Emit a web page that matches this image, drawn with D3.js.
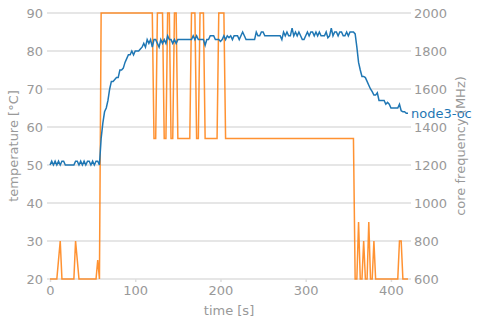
<!DOCTYPE html>
<html>
<head>
<meta charset="utf-8">
<script src="https://cdn.jsdelivr.net/npm/d3@7"></script>
<style>
  body { margin: 0; background: #fff; }
  text { font-family: 'DejaVu Sans', sans-serif; }
</style>
</head>
<body>
<svg id="chart_svg" width="482" height="325"></svg>
<script>
// sampling step of the log (seconds)
const sample_step = 2;

// node3-oc temperature [°C], one value every 2 s from t = 0
const temperature = [
  50, 51, 50, 51, 50, 51, 50, 51, 51, 50,
  50, 50, 50, 50, 50, 51, 51, 50, 51, 50,
  51, 50, 51, 51, 50, 51, 50, 51, 51, 50,
  57, 61, 64, 65, 67, 70, 72, 72, 72.5, 73,
  73, 75, 75, 75.5, 77, 78, 79, 79, 80, 79,
  80, 80, 80, 80.5, 81, 82, 81, 83, 82, 83,
  81, 83, 83, 82, 81, 83, 82, 83, 82, 84,
  83, 83, 82, 83, 82, 83, 83, 83, 83, 83,
  83, 83, 83, 83, 84, 83, 84, 83, 83, 83,
  83, 81.5, 83, 83, 84, 84, 84, 83, 83, 83,
  82.5, 83, 84, 83, 84, 83.5, 84, 83, 84, 84,
  84, 83, 84, 85, 84, 83, 83, 83, 83, 83,
  83, 85, 84, 84, 85, 85, 84, 84, 84, 84,
  84, 84, 84, 84, 84, 84, 83, 85, 84, 85,
  84, 84, 86, 84, 85, 84, 85, 84, 83, 83,
  84, 85, 84, 85, 85, 84, 85, 84, 85, 84,
  84, 84, 85, 83.5, 84, 86, 84, 85, 85, 84,
  85, 85, 84, 84, 85, 84, 85, 85, 85, 84.5,
  81, 77, 75, 73.3, 73.3, 73, 72, 71, 70, 69.3,
  68.4, 68.4, 69, 67, 67, 67, 67, 66, 66.5, 66,
  65, 65, 65, 65, 65, 66, 64.3, 64, 64, 63.6,
  63.6
];

// core frequency (MHz), same sampling
const core_frequency = [
  600, 600, 600, 600, 600, 700, 800, 600, 600, 600,
  600, 600, 600, 600, 600, 800, 700, 600, 600, 600,
  600, 600, 600, 600, 600, 600, 600, 600, 700, 600,
  2000, 2000, 2000, 2000, 2000, 2000, 2000, 2000, 2000, 2000,
  2000, 2000, 2000, 2000, 2000, 2000, 2000, 2000, 2000, 2000,
  2000, 2000, 2000, 2000, 2000, 2000, 2000, 2000, 2000, 2000,
  2000, 1340, 1340, 2000, 2000, 2000, 2000, 1340, 1340, 2000,
  2000, 1340, 1340, 2000, 2000, 1340, 1340, 1340, 1340, 1340,
  1340, 1340, 1340, 2000, 2000, 2000, 1340, 1340, 2000, 2000,
  2000, 1340, 1340, 1340, 1340, 1340, 1340, 1340, 1340, 2000,
  2000, 2000, 2000, 1340, 1340, 1340, 1340, 1340, 1340, 1340,
  1340, 1340, 1340, 1340, 1340, 1340, 1340, 1340, 1340, 1340,
  1340, 1340, 1340, 1340, 1340, 1340, 1340, 1340, 1340, 1340,
  1340, 1340, 1340, 1340, 1340, 1340, 1340, 1340, 1340, 1340,
  1340, 1340, 1340, 1340, 1340, 1340, 1340, 1340, 1340, 1340,
  1340, 1340, 1340, 1340, 1340, 1340, 1340, 1340, 1340, 1340,
  1340, 1340, 1340, 1340, 1340, 1340, 1340, 1340, 1340, 1340,
  1340, 1340, 1340, 1340, 1340, 1340, 1340, 1340, 1340, 600,
  600, 900, 600, 600, 800, 600, 600, 900, 600, 600,
  800, 600, 600, 600, 600, 600, 600, 600, 600, 600,
  600, 600, 600, 600, 600, 800, 800, 600, 600, 600,
  600
];

const x_ticks = [0, 100, 200, 300, 400];
const temp_ticks = [20, 30, 40, 50, 60, 70, 80, 90];
const freq_ticks = [600, 800, 1000, 1200, 1400, 1600, 1800, 2000];
const series_label = 'node3-oc';

/**
 * Margins of the plot area.
 */
const margin = { top: 13, bottom: 46, left: 50, right: 74 };
const width = 482;
const height = 325;
const grey = '#999';

let svg = d3.select('#chart_svg');

let time = temperature.map((d, i) => i * sample_step);

const xScale = d3.scaleLinear()
  .domain([0, 420])
  .range([margin.left, width - margin.right]);

const yTemp = d3.scaleLinear()
  .domain([20, 90])
  .range([height - margin.bottom, margin.top]);

const yFreq = d3.scaleLinear()
  .domain([600, 2000])
  .range([height - margin.bottom, margin.top]);

/**
 * Horizontal grid lines (from the temperature axis)
 */
svg.append('g')
  .selectAll('line')
  .data(temp_ticks)
  .enter()
  .append('line')
  .attr('x1', margin.left - 3)
  .attr('x2', width - margin.right + 3)
  .attr('y1', (d) => yTemp(d))
  .attr('y2', (d) => yTemp(d))
  .attr('stroke', '#dedede')
  .attr('stroke-width', 1.5);

/**
 * Axes
 */
function style_axis(g) {
  g.select('.domain').remove();
  g.selectAll('.tick line').attr('stroke', '#dedede').attr('stroke-width', 1.5);
  g.selectAll('.tick text')
    .attr('fill', grey)
    .style('font-size', '13px')
    .style('font-family', "'DejaVu Sans', sans-serif");
}

svg.append('g')
  .attr('transform', 'translate(0,' + (height - margin.bottom) + ')')
  .call(d3.axisBottom(xScale).tickValues(x_ticks).tickSize(3).tickPadding(4))
  .call(style_axis);

svg.append('g')
  .attr('transform', 'translate(' + margin.left + ',0)')
  .call(d3.axisLeft(yTemp).tickValues(temp_ticks).tickSize(0).tickPadding(7))
  .call(style_axis);

svg.append('g')
  .attr('transform', 'translate(' + (width - margin.right) + ',0)')
  .call(d3.axisRight(yFreq).tickValues(freq_ticks).tickFormat(d3.format('d')).tickSize(0).tickPadding(6))
  .call(style_axis);

/**
 * Clip path for the lines
 */
svg.append('clipPath')
  .attr('id', 'plot_clip')
  .append('rect')
  .attr('x', margin.left - 2)
  .attr('y', margin.top - 2)
  .attr('width', width - margin.left - margin.right + 4)
  .attr('height', height - margin.top - margin.bottom + 4);

/**
 * Core frequency line
 */
let freq_line = d3.line()
  .x((d, i) => xScale(time[i]))
  .y((d) => yFreq(d));

svg.append('path')
  .datum(core_frequency)
  .attr('clip-path', 'url(#plot_clip)')
  .attr('fill', 'none')
  .attr('stroke', '#ff7f0e')
  .attr('stroke-opacity', 0.85)
  .attr('stroke-width', 1.5)
  .attr('d', freq_line);

/**
 * Temperature line
 */
let temp_line = d3.line()
  .x((d, i) => xScale(time[i]))
  .y((d) => yTemp(d));

svg.append('path')
  .datum(temperature)
  .attr('clip-path', 'url(#plot_clip)')
  .attr('fill', 'none')
  .attr('stroke', '#1f77b4')
  .attr('stroke-width', 1.5)
  .attr('d', temp_line);

/**
 * Series label at the end of the line
 */
let last = temperature.length - 1;
svg.append('text')
  .attr('x', xScale(time[last]) + 3)
  .attr('y', yTemp(temperature[last]))
  .attr('dy', '0.35em')
  .attr('fill', '#1f77b4')
  .style('font-size', '13px')
  .text(series_label);

/**
 * Axis labels
 */
svg.append('text')
  .attr('x', (margin.left + width - margin.right) / 2)
  .attr('y', height - 10)
  .attr('text-anchor', 'middle')
  .attr('fill', grey)
  .style('font-size', '13px')
  .text('time [s]');

svg.append('text')
  .attr('transform', 'rotate(-90)')
  .attr('x', -(margin.top + height - margin.bottom) / 2)
  .attr('y', 18)
  .attr('text-anchor', 'middle')
  .attr('fill', grey)
  .style('font-size', '13px')
  .text('temperature [°C]');

svg.append('text')
  .attr('transform', 'rotate(-90)')
  .attr('x', -(margin.top + height - margin.bottom) / 2)
  .attr('y', width - 17)
  .attr('text-anchor', 'middle')
  .attr('fill', grey)
  .style('font-size', '13px')
  .text('core frequency (MHz)');
</script>
</body>
</html>
